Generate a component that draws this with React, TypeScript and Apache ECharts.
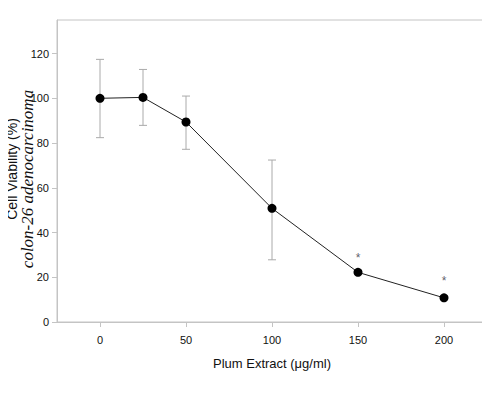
import React, { useEffect, useRef } from "react";
import * as echarts from "echarts";

const doses = [0, 25, 50, 100, 150, 200];
const viability = [100, 100.4, 89.4, 50.8, 22.2, 10.8];
const errLow = [82.4, 87.9, 77.2, 27.8, 21.2, 10.0];
const errHigh = [117.4, 112.9, 101.0, 72.4, 23.2, 11.6];
const starDoses = [150, 200];
const starValues = [28.5, 18.3];
const xTicks = [0, 50, 100, 150, 200];
const yTicks = [0, 20, 40, 60, 80, 100, 120];

export default function App() {
  const ref = useRef<HTMLDivElement>(null);
  useEffect(() => {
    if (!ref.current) return;
    const chart = echarts.init(ref.current, null, { renderer: "svg" });
    const gray = "#c4c4c4";
    chart.setOption({
      animation: false,
      backgroundColor: "#ffffff",
      grid: {
        left: 57,
        right: 3,
        top: 20,
        bottom: 71,
        show: true,
        borderColor: gray,
        borderWidth: 1,
      },
      xAxis: {
        type: "value",
        min: -25,
        max: 225,
        splitLine: { show: false },
        axisLine: { show: true, onZero: false, lineStyle: { color: gray } },
        axisTick: {
          show: true,
          length: 5,
          lineStyle: { color: gray },
          customValues: xTicks,
        },
        axisLabel: {
          customValues: xTicks,
          color: "#111",
          fontFamily: "Liberation Sans, Arial",
          fontSize: 11,
          margin: 12,
        },
        name: "Plum Extract (\u03bcg/ml)",
        nameLocation: "middle",
        nameGap: 35,
        nameTextStyle: {
          color: "#111",
          fontFamily: "Liberation Sans, Arial",
          fontSize: 13,
        },
      },
      yAxis: {
        type: "value",
        min: 0,
        max: 135,
        splitLine: { show: false },
        axisLine: { show: true, onZero: false, lineStyle: { color: gray } },
        axisTick: {
          show: true,
          length: 5,
          lineStyle: { color: gray },
          customValues: yTicks,
        },
        axisLabel: {
          customValues: yTicks,
          color: "#111",
          fontFamily: "Liberation Sans, Arial",
          fontSize: 11,
          margin: 8,
        },
      },
      graphic: [
        {
          type: "text",
          x: 12,
          y: 169,
          rotation: Math.PI / 2,
          style: {
            text: "Cell Viability (%)",
            fontFamily: "Liberation Sans, Arial",
            fontSize: 14,
            fill: "#111",
            align: "center",
            verticalAlign: "middle",
          },
        },
        {
          type: "text",
          x: 27,
          y: 179,
          rotation: Math.PI / 2,
          style: {
            text: "colon-26 adenocarcinoma",
            fontFamily: "Liberation Serif, serif",
            fontStyle: "italic",
            fontSize: 17,
            fill: "#111",
            align: "center",
            verticalAlign: "middle",
          },
        },
      ],
      series: [
        {
          type: "custom",
          z: 1,
          data: doses.map((d, i) => [d, errLow[i], errHigh[i]]),
          renderItem: (params: any, api: any) => {
            const x = api.value(0);
            const lo = api.coord([x, api.value(1)]);
            const hi = api.coord([x, api.value(2)]);
            const hw = 4;
            const style = { stroke: "#aaaaaa", lineWidth: 1 };
            return {
              type: "group",
              children: [
                { type: "line", shape: { x1: lo[0], y1: lo[1], x2: hi[0], y2: hi[1] }, style },
                { type: "line", shape: { x1: lo[0] - hw, y1: lo[1], x2: lo[0] + hw, y2: lo[1] }, style },
                { type: "line", shape: { x1: hi[0] - hw, y1: hi[1], x2: hi[0] + hw, y2: hi[1] }, style },
              ],
            };
          },
        },
        {
          type: "line",
          z: 3,
          data: doses.map((d, i) => [d, viability[i]]),
          symbol: "circle",
          symbolSize: 9,
          itemStyle: { color: "#000" },
          lineStyle: { color: "#222", width: 1 },
        },
        {
          type: "scatter",
          z: 4,
          data: starDoses.map((d, i) => [d, starValues[i]]),
          symbolSize: 0,
          label: {
            show: true,
            position: "inside",
            formatter: "*",
            color: "#334",
            fontFamily: "Liberation Sans, Arial",
            fontSize: 12,
          },
        },
      ],
    });
    return () => chart.dispose();
  }, []);
  return <div ref={ref} style={{ width: 490, height: 393, margin: -8 }} />;
}
